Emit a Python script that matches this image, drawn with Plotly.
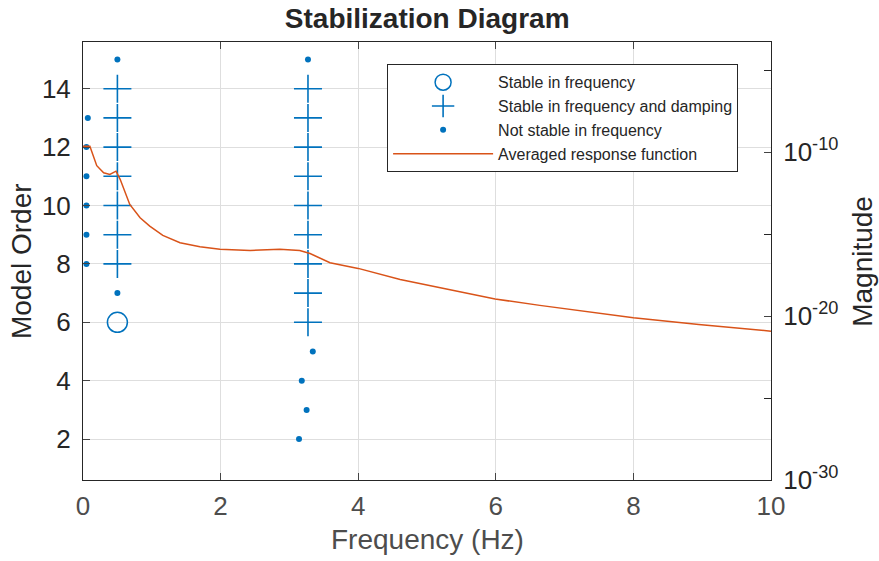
import plotly.graph_objects as go

# ---- data ----
stable_freq_f = [0.50]
stable_freq_order = [6]

stable_fd_f = [0.50, 0.50, 0.50, 0.50, 0.50, 0.50, 0.50,
               3.27, 3.27, 3.27, 3.27, 3.27, 3.27, 3.27, 3.27, 3.27]
stable_fd_order = [8, 9, 10, 11, 12, 13, 14,
                   6, 7, 8, 9, 10, 11, 12, 13, 14]

not_stable_f = [0.05, 0.05, 0.05, 0.05, 0.05, 0.07, 0.50, 0.50,
                3.14, 3.25, 3.18, 3.34, 3.27]
not_stable_order = [8, 9, 10, 11, 12, 13, 7, 15,
                    2, 3, 4, 5, 15]

resp_freq = [0.0, 0.10, 0.20, 0.30, 0.39, 0.48, 0.54, 0.68, 0.83, 0.97, 1.16,
             1.41, 1.70, 1.99, 2.43, 2.86, 3.15, 3.30, 3.59, 4.00, 4.61, 5.33,
             5.99, 6.64, 8.00, 8.95, 10.0]
resp_mag = [2.3e-10, 2.3e-10, 1.5e-11, 5.5e-12, 4.4e-12, 6.9e-12, 2.2e-12,
            6.5e-14, 1.0e-14, 3.1e-15, 8.3e-16, 3.0e-16, 1.7e-16, 1.2e-16,
            1.0e-16, 1.2e-16, 1.0e-16, 6.6e-17, 1.8e-17, 8.1e-18, 1.7e-18,
            4.3e-19, 1.1e-19, 4.5e-20, 7.9e-21, 3.1e-21, 1.2e-21]

x_ticks = [0, 2, 4, 6, 8, 10]
y_ticks = [2, 4, 6, 8, 10, 12, 14]
mag_ticks = [1e-30, 1e-20, 1e-10]
mag_ticktext = ["10<sup>-30</sup>", "10<sup>-20</sup>", "10<sup>-10</sup>"]
mag_minor_ticks = [1e-25, 1e-15, 1e-5]

BLUE = "#0072BD"
ORANGE = "#D95319"
DARK = "#262626"
GRAYTXT = "#4d4d4d"
FONT = "Arial, Liberation Sans, sans-serif"

fig = go.Figure()
fig.add_trace(go.Scatter(
    x=stable_freq_f, y=stable_freq_order, mode="markers",
    name="Stable in frequency",
    marker=dict(symbol="circle-open", size=20, color=BLUE, line=dict(width=1.5, color=BLUE)),
))
fig.add_trace(go.Scatter(
    x=stable_fd_f, y=stable_fd_order, mode="markers",
    name="Stable in frequency and damping",
    marker=dict(symbol="cross-thin-open", size=20, color=BLUE, line=dict(width=1.6, color=BLUE)),
))
fig.add_trace(go.Scatter(
    x=not_stable_f, y=not_stable_order, mode="markers",
    name="Not stable in frequency",
    marker=dict(symbol="circle", size=6, color=BLUE),
))
fig.add_trace(go.Scatter(
    x=resp_freq, y=resp_mag, mode="lines", yaxis="y2",
    name="Averaged response function",
    line=dict(color=ORANGE, width=1.5),
))

fig.update_layout(
    width=879, height=561,
    paper_bgcolor="white", plot_bgcolor="white",
    margin=dict(l=83, r=108, t=42, b=81, autoexpand=False),
    font=dict(family=FONT, color=DARK),
    title=dict(text="<b>Stabilization Diagram</b>", x=0.486, xanchor="center",
               y=0.968, yanchor="middle", font=dict(size=28, color=DARK)),
    showlegend=True,
    legend=dict(x=0.442, y=0.949, xanchor="left", yanchor="top",
                bordercolor=DARK, borderwidth=1, bgcolor="white",
                font=dict(size=16, color=DARK), itemwidth=100,
                tracegroupgap=0),
    xaxis=dict(range=[0, 10], tickvals=x_ticks, ticks="inside", ticklen=7,
               showline=True, linecolor=DARK, linewidth=1, mirror="ticks",
               showgrid=True, gridcolor="#dedede", zeroline=False, automargin=False,
               tickfont=dict(size=26, color=GRAYTXT), ticklabelstandoff=3),
    yaxis=dict(range=[0.6, 15.6], tickvals=y_ticks, ticks="inside", ticklen=7,
               showline=True, linecolor=DARK, linewidth=1, automargin=False,
               showgrid=True, gridcolor="#dedede", zeroline=False,
               tickfont=dict(size=26, color=DARK), ticklabelstandoff=6),
    yaxis2=dict(type="log", range=[-30, -3.28], overlaying="y", side="right",
                tickvals=mag_ticks, ticktext=mag_ticktext, ticks="inside", ticklen=7,
                minor=dict(tickvals=mag_minor_ticks, ticks="inside", ticklen=7,
                           tickcolor=DARK, showgrid=False),
                showline=True, linecolor=DARK, linewidth=1, showgrid=False,
                automargin=False, zeroline=False,
                tickfont=dict(size=26, color=DARK), ticklabelstandoff=6),
    annotations=[
        dict(text="Frequency (Hz)", xref="paper", yref="paper",
             x=0.5, y=-0.136, xanchor="center", yanchor="middle",
             showarrow=False, font=dict(size=28, color=GRAYTXT)),
        dict(text="Model Order", xref="paper", yref="paper",
             x=-0.09, y=0.5, xanchor="center", yanchor="middle", textangle=-90,
             showarrow=False, font=dict(size=28, color=DARK)),
        dict(text="Magnitude", xref="paper", yref="paper",
             x=1.132, y=0.5, xanchor="center", yanchor="middle", textangle=-90,
             showarrow=False, font=dict(size=28, color=DARK)),
    ],
)

fig.write_html("out.html",
               config={"displayModeBar": False},
               post_script="document.body.style.margin='0px';document.body.style.overflow='hidden';")
